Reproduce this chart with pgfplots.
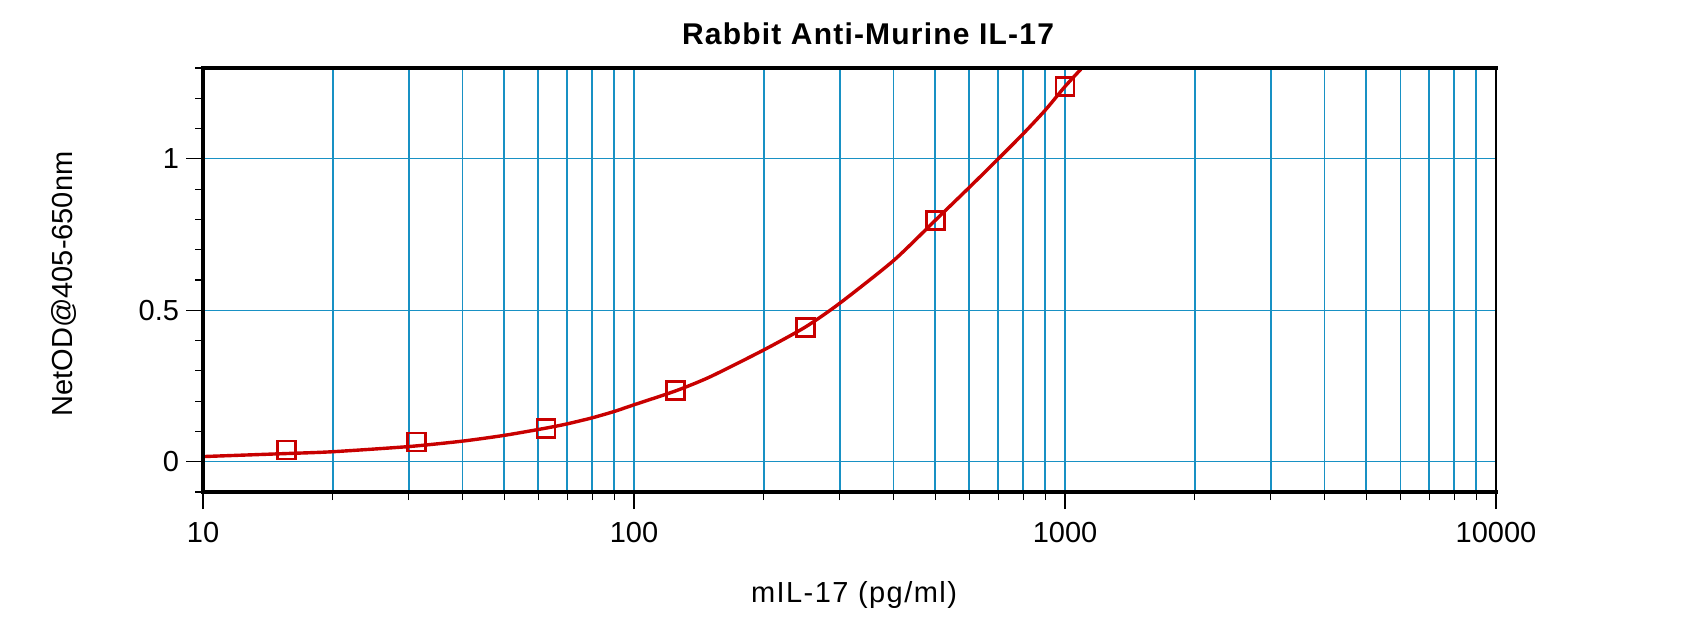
\documentclass[border=0pt]{standalone}
\usepackage{fontspec}
\setmainfont{Liberation Sans}
\usepackage{pgfplots}
\pgfplotsset{compat=1.18}
\definecolor{gridc}{RGB}{24,145,196}
\definecolor{curvec}{RGB}{200,0,0}
\begin{document}
\begin{tikzpicture}
\path[use as bounding box] (0,0) rectangle (850pt,316pt);
\begin{axis}[
  at={(101.5pt,70pt)}, anchor=south west,
  scale only axis, width=646.5pt, height=212pt,
  xmode=log, log basis x=10,
  xmin=10, xmax=10000, ymin=-0.1, ymax=1.3,
  xtick={10,100,1000,10000}, xticklabels={10,100,1000,10000},
  minor xtick={20,30,40,50,60,70,80,90,200,300,400,500,600,700,800,900,2000,3000,4000,5000,6000,7000,8000,9000},
  ytick={0,0.5,1}, yticklabels={0,0.5,1},
  minor ytick={-0.1,0.1,0.2,0.3,0.4,0.6,0.7,0.8,0.9,1.1,1.2,1.3},
  xtick pos=bottom, ytick pos=left, tick align=outside,
  major tick length=8.5pt, minor tick length=4pt,
  tick style={black, line width=0.6pt},
  xmajorgrids, xminorgrids, ymajorgrids,
  major x grid style={gridc, line width=1pt},
  minor x grid style={gridc, line width=0.9pt},
  major y grid style={gridc, line width=0.6pt},
  axis line style={line width=1pt},
  tick label style={font=\fontsize{14.5}{16}\selectfont},
  xticklabel style={yshift=-3pt},
  clip=false,
]
\addplot[curvec, line width=1.7pt, smooth, tension=0.4] table {
x y
10 0.017
15.625 0.027
20 0.033
30 0.050
40 0.068
50 0.087
62.5 0.111
70 0.125
80 0.145
90 0.166
100 0.188
125 0.234
150 0.280
200 0.369
250 0.445
300 0.523
400 0.664
500 0.797
600 0.906
700 1.000
800 1.083
900 1.161
1000 1.239
1095 1.300
};
\addplot[only marks, curvec, mark=square, mark size=4.5pt, mark options={line width=1.4pt, fill=none}] coordinates {
(15.625,0.039) (31.25,0.065) (62.5,0.111) (125,0.234) (250,0.444) (500,0.797) (1000,1.238)
};
\draw[line width=1.75pt, line cap=rect] (rel axis cs:0,0) -- (rel axis cs:1,0);
\draw[line width=1.75pt, line cap=rect] (rel axis cs:0,0) -- (rel axis cs:0,1) -- (rel axis cs:1,1);
\end{axis}
\node[font=\fontsize{15}{17}\selectfont\bfseries, anchor=center] at (434pt,299pt) {\addfontfeature{LetterSpace=4}Rabbit Anti-Murine IL-17};
\node[font=\fontsize{14.5}{16}\selectfont, anchor=base] at (427pt,15pt) {\addfontfeature{LetterSpace=5}mIL-17 (pg/ml)};
\node[font=\fontsize{14.5}{16}\selectfont, anchor=base, rotate=90] at (36pt,174pt) {NetOD@405-650nm};
\end{tikzpicture}
\end{document}
